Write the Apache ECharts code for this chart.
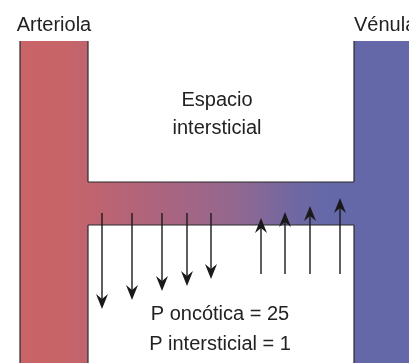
<!DOCTYPE html>
<html><head><meta charset="utf-8">
<script src="https://cdn.jsdelivr.net/npm/echarts@6/dist/echarts.min.js"></script>
<style>html,body{margin:0;padding:0;background:#fff}#c{width:409px;height:363px}</style>
</head><body><div id="c"></div>
<script>
// Data
const vesselLabels = ['Arteriola', 'Vénula'];
const pressureLabels = ['37', '17'];
const spaceLabels = ['Espacio', 'intersticial'];
const noteLabels = ['P oncótica = 25', 'P intersticial = 1'];
// filtration arrows (down): x position, start y, tip y
const downX = [102, 132, 162, 187, 211];
const downStart = [213, 213, 213, 213, 213];
const downTip = [309, 300, 291, 286, 279];
// reabsorption arrows (up)
const upX = [261, 285, 310, 340];
const upStart = [274, 274, 274, 274];
const upTip = [218, 212, 206, 198];

const FONT = 'Liberation Sans, Arial, Helvetica, sans-serif';
const FS = 20;
const RED = '#C96468', BLUE = '#6468A9';
const G = {art0: 20, art1: 88, ven0: 354, ven1: 420, top: 41, bot: 370, capTop: 182, capBot: 225};

const chart = echarts.init(document.getElementById('c'), null, {renderer: 'canvas'});

function vesselRender(params, api) {
  const p = (x, y) => api.coord([x, y]);
  const a0 = p(G.art0, G.top), a1 = p(G.art1, G.bot);
  const v0 = p(G.ven0, G.top), v1 = p(G.ven1, G.bot);
  const c0 = p(G.art1 - 1, G.capTop), c1 = p(G.ven0 + 1, G.capBot);
  const stroke = {stroke: '#2a2a2a', lineWidth: 1.2};
  const line = (x1, y1, x2, y2) => {
    const s = p(x1, y1), e = p(x2, y2);
    return {type: 'line', shape: {x1: s[0], y1: s[1], x2: e[0], y2: e[1]}, style: stroke};
  };
  return {type: 'group', children: [
    {type: 'rect', shape: {x: a0[0], y: a0[1], width: a1[0] - a0[0], height: a1[1] - a0[1]},
     style: {fill: new echarts.graphic.LinearGradient(0, 0, 1, 0, [{offset: 0, color: '#C96468'}, {offset: 0.6, color: '#C76468'}, {offset: 1, color: '#C1646E'}])}},
    {type: 'rect', shape: {x: v0[0], y: v0[1], width: v1[0] - v0[0], height: v1[1] - v0[1]}, style: {fill: BLUE}},
    {type: 'rect', shape: {x: c0[0], y: c0[1], width: c1[0] - c0[0], height: c1[1] - c0[1]},
     style: {fill: new echarts.graphic.LinearGradient(0, 0, 1, 0, [
       {offset: 0, color: '#C1646E'}, {offset: 0.3, color: '#AA6480'}, {offset: 0.55, color: '#93688F'},
       {offset: 0.78, color: '#6F68A2'}, {offset: 0.9, color: BLUE}, {offset: 1, color: BLUE}])}},
    line(G.art0, G.top, G.art0, G.bot),
    line(G.art1, G.top, G.art1, G.capTop),
    line(G.art1, G.capBot, G.art1, G.bot),
    line(G.ven0, G.top, G.ven0, G.capTop),
    line(G.ven0, G.capBot, G.ven0, G.bot),
    line(G.art1, G.capTop, G.ven0, G.capTop),
    line(G.art1, G.capBot, G.ven0, G.capBot)
  ]};
}

function arrowRender(params, api) {
  const x = api.value(0), y0 = api.value(1), y1 = api.value(2);
  const s = api.coord([x, y0]), t = api.coord([x, y1]);
  const dir = t[1] > s[1] ? 1 : -1;
  const L = 15, W = 6, N = 10;
  return {type: 'group', children: [
    {type: 'line', shape: {x1: s[0], y1: s[1], x2: t[0], y2: t[1] - dir * N}, style: {stroke: '#1a1a1a', lineWidth: 1.4}},
    {type: 'polygon', shape: {points: [[t[0], t[1]], [t[0] - W, t[1] - dir * L], [t[0], t[1] - dir * N], [t[0] + W, t[1] - dir * L]]},
     style: {fill: '#1a1a1a'}}
  ]};
}

const arrowData = downX.map((x, i) => [x, downStart[i], downTip[i]])
  .concat(upX.map((x, i) => [x, upStart[i], upTip[i]]));

const txt = (text, x, y, align) => ({type: 'text', x: x, y: y,
  style: {text: text, font: FS + 'px ' + FONT, fill: '#222', align: align || 'center', verticalAlign: 'middle'}});

chart.setOption({
  animation: false,
  grid: {left: 0, right: 0, top: 0, bottom: 0, containLabel: false},
  xAxis: {type: 'value', min: 0, max: 409, show: false},
  yAxis: {type: 'value', min: 0, max: 363, inverse: true, show: false},
  series: [
    {type: 'custom', renderItem: vesselRender, data: [[0, 0]], silent: true, clip: false, z: 1},
    {type: 'custom', renderItem: arrowRender, data: arrowData, silent: true, clip: false, z: 3,
     encode: {x: 0, y: [1, 2]}}
  ],
  graphic: [
    txt(vesselLabels[0], 54, 25),
    txt(vesselLabels[1], 354, 25, 'left'),
    txt(spaceLabels[0], 217, 100),
    txt(spaceLabels[1], 217, 128),
    txt(pressureLabels[0], 52, 209),
    txt(pressureLabels[1], 383, 209),
    txt(noteLabels[0], 220, 314),
    txt(noteLabels[1], 220, 344)
  ]
});
</script></body></html>
